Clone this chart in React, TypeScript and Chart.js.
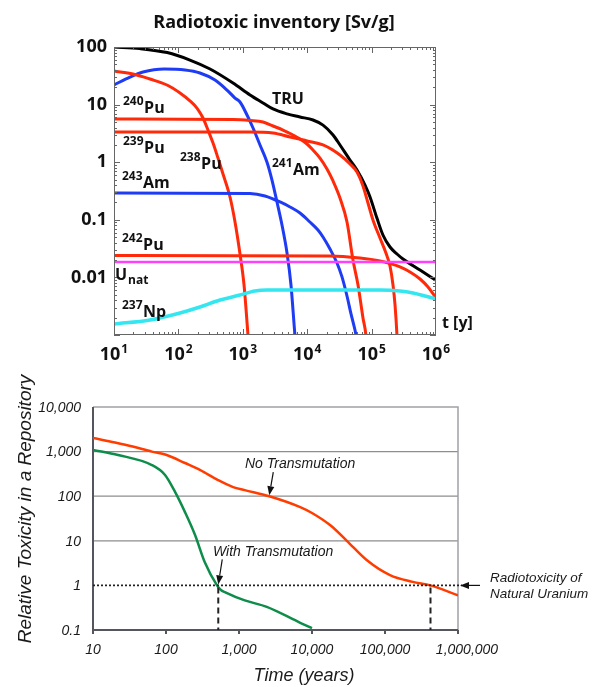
import React, { useEffect, useRef } from 'react';
import { Chart, registerables } from 'chart.js';
Chart.register(...registerables);

// ---------- Top chart: Radiotoxic inventory [Sv/g] ----------
const TRU_T = [10, 25, 67, 151, 310, 705, 1295, 2060, 2945, 4860, 7730, 12300, 17600, 25200, 32300, 46200, 59300, 79000, 94500, 121000, 150000, 193000, 248000, 307000, 565000, 1000000];
const TRU_V = [100, 94, 80, 59.4, 41.5, 23.7, 14.7, 10.7, 8.4, 6.9, 6.1, 5.4, 4.4, 2.97, 1.99, 1.09, 0.73, 0.40, 0.249, 0.107, 0.0545, 0.0337, 0.0255, 0.0209, 0.0134, 0.0089];

const AM241_T = [10, 17.7, 28.2, 60, 127, 216, 370, 568, 757, 905, 1163, 1442, 1850, 2377, 2840, 3395, 4060, 4860, 5600, 6470, 7000];
const AM241_V = [21.9, 30.1, 36.8, 41.5, 39.9, 35.4, 26.7, 17.9, 13.0, 11.1, 6.6, 3.92, 1.99, 1.0, 0.49, 0.204, 0.0813, 0.0265, 0.00738, 0.00096, 0.0004];

const PU238_T = [10, 19.7, 36.2, 66.5, 106, 151, 194, 241, 288, 345, 412, 493, 633, 757, 905, 1045, 1206, 1300];
const PU238_V = [38.3, 34.0, 27.8, 21.9, 15.9, 11.6, 8.7, 5.85, 3.62, 2.15, 1.18, 0.624, 0.249, 0.0916, 0.0255, 0.00738, 0.00096, 0.0003];

const PU240_T = [10, 705, 1295, 2060, 2945, 4200, 6020, 7730, 9930, 12300, 15800, 20300, 25200, 32300, 41500, 51400, 61500, 73500, 81800, 86000];
const PU240_V = [5.62, 5.51, 5.30, 4.99, 4.25, 3.62, 2.97, 2.53, 2.07, 1.63, 1.18, 0.762, 0.472, 0.239, 0.0916, 0.020, 0.00738, 0.00197, 0.00096, 0.0004];

const PU239_T = [10, 1295, 2945, 5410, 9930, 17600, 32300, 46200, 59300, 73500, 87900, 105000, 135000, 167000, 193000, 215000, 231000, 248000, 256000];
const PU239_V = [3.34, 3.34, 3.21, 2.74, 2.34, 1.99, 1.33, 0.931, 0.676, 0.386, 0.196, 0.0993, 0.0483, 0.0265, 0.0158, 0.00738, 0.00332, 0.00096, 0.0004];

const PU242_T = [10, 22600, 66100, 135000, 193000, 276000, 395000, 565000, 752000, 1000000];
const PU242_V = [0.024, 0.0236, 0.0217, 0.0193, 0.0174, 0.0152, 0.0124, 0.00938, 0.00681, 0.00439];

const UNAT_T = [10, 1000000];
const UNAT_V = [0.0185, 0.0185];

const NP237_T = [10, 36.2, 106, 216, 443, 905, 1545, 2377, 7730, 135000, 276000, 440000, 675000, 1000000];
const NP237_V = [0.00155, 0.00182, 0.00241, 0.00306, 0.00405, 0.00494, 0.00581, 0.00604, 0.00604, 0.00604, 0.00581, 0.00536, 0.00475, 0.00421];

const AM243_T = [10, 1295, 2210, 3790, 5410, 7730, 11000, 14700, 17600, 22600, 29000, 34700, 41500, 47900, 55200, 59300];
const AM243_V = [0.292, 0.286, 0.259, 0.204, 0.167, 0.131, 0.0916, 0.0665, 0.0503, 0.0311, 0.0178, 0.0102, 0.00475, 0.00232, 0.00122, 0.00082];

const TOP_X_TICKS = [10, 100, 1000, 10000, 100000, 1000000];
const TOP_X_EXP = ['1', '2', '3', '4', '5', '6'];
const TOP_Y_TICKS = [100, 10, 1, 0.1, 0.01];
const TOP_Y_LABELS = ['100', '10', '1', '0.1', '0.01'];

// ---------- Bottom chart: Relative toxicity ----------
const NOTRANS_T = [10, 20, 35, 64, 100, 182, 295, 515, 830, 1200, 2600, 6900, 10000, 18000, 30000, 56000, 117000, 240000, 420000, 1000000];
const NOTRANS_V = [2020, 1600, 1300, 1000, 850, 555, 385, 230, 160, 137, 100, 57, 42, 22, 10, 3.7, 1.7, 1.2, 1.0, 0.6];

const WITHTRANS_T = [10, 22, 64, 97, 133, 182, 250, 340, 500, 560, 650, 1200, 2400, 6900, 10000];
const WITHTRANS_V = [1090, 840, 500, 300, 125, 44, 13.5, 3.3, 1.0, 0.8, 0.7, 0.46, 0.33, 0.145, 0.11];

const BOT_X_TICKS = [10, 100, 1000, 10000, 100000, 1000000];
const BOT_X_LABELS = ['10', '100', '1,000', '10,000', '100,000', '1,000,000'];
const BOT_Y_TICKS = [10000, 1000, 100, 10, 1, 0.1];
const BOT_Y_LABELS = ['10,000', '1,000', '100', '10', '1', '0.1'];
const BOT_GRID = [1000, 100, 10];
const NAT_U_LEVEL = 1;
const CROSS_WITH = 520;
const CROSS_NO = 420000;

const F1 = '"Open Sans", "DejaVu Sans", sans-serif';
const F2 = '"Liberation Sans", Arial, sans-serif';

const pts = (t: number[], v: number[]) => t.map((x, i) => ({ x, y: v[i] }));

function iso(ctx: CanvasRenderingContext2D, sup: string, base: string, x: number, yb: number) {
  ctx.textAlign = 'left';
  ctx.textBaseline = 'alphabetic';
  ctx.font = `bold 12px ${F1}`;
  ctx.fillText(sup, x, yb - 8);
  const w = ctx.measureText(sup).width;
  ctx.font = `bold 16px ${F1}`;
  ctx.fillText(base, x + w + 0.5, yb);
}

const topDeco = {
  id: 'topDeco',
  afterDatasetsDraw(chart: any) {
    const { ctx, chartArea: ca, scales } = chart;
    const x = scales.x, y = scales.y;
    ctx.save();
    ctx.strokeStyle = '#666';
    ctx.lineWidth = 1;
    ctx.strokeRect(ca.left + 0.5, ca.top + 0.5, ca.right - ca.left - 1, ca.bottom - ca.top - 1);
    ctx.beginPath();
    for (let e = 1; e < 6; e++) {
      for (let m = 1; m < 10; m++) {
        const px = Math.round(x.getPixelForValue(m * Math.pow(10, e))) + 0.5;
        const len = m === 1 ? 6 : 3;
        ctx.moveTo(px, ca.bottom); ctx.lineTo(px, ca.bottom - len);
        ctx.moveTo(px, ca.top); ctx.lineTo(px, ca.top + len);
      }
    }
    for (let e = -3; e < 2; e++) {
      for (let m = 1; m < 10; m++) {
        const py = Math.round(y.getPixelForValue(m * Math.pow(10, e))) + 0.5;
        const len = m === 1 ? 6 : 3;
        ctx.moveTo(ca.left, py); ctx.lineTo(ca.left + len, py);
        ctx.moveTo(ca.right, py); ctx.lineTo(ca.right - len, py);
      }
    }
    ctx.stroke();

    ctx.fillStyle = '#111';
    ctx.font = `bold 18px ${F1}`;
    ctx.textAlign = 'center';
    ctx.textBaseline = 'alphabetic';
    ctx.fillText('Radiotoxic inventory [Sv/g]', 274, 28);
    ctx.textAlign = 'right';
    ctx.textBaseline = 'middle';
    TOP_Y_TICKS.forEach((v, i) => {
      ctx.fillText(TOP_Y_LABELS[i], ca.left - 7, y.getPixelForValue(v));
    });
    TOP_X_TICKS.forEach((v, i) => {
      const px = x.getPixelForValue(v);
      ctx.font = `bold 18px ${F1}`;
      const w1 = ctx.measureText('10').width;
      ctx.font = `bold 12px ${F1}`;
      const w2 = ctx.measureText(TOP_X_EXP[i]).width;
      const s = px - (w1 + w2 + 1) / 2;
      ctx.textAlign = 'left';
      ctx.textBaseline = 'alphabetic';
      ctx.font = `bold 18px ${F1}`;
      ctx.fillText('10', s, ca.bottom + 25);
      ctx.font = `bold 12px ${F1}`;
      ctx.fillText(TOP_X_EXP[i], s + w1 + 1, ca.bottom + 18);
    });
    const L = ca.left, T = ca.top;
    iso(ctx, '240', 'Pu', L + 9, T + 66);
    iso(ctx, '239', 'Pu', L + 9, T + 106);
    iso(ctx, '238', 'Pu', L + 66, T + 122);
    iso(ctx, '241', 'Am', L + 158, T + 128);
    iso(ctx, '243', 'Am', L + 8, T + 141);
    iso(ctx, '242', 'Pu', L + 8, T + 203);
    iso(ctx, '237', 'Np', L + 8, T + 270);
    ctx.font = `bold 16px ${F1}`;
    ctx.textAlign = 'left';
    ctx.fillText('U', L + 1, T + 233);
    const wu = ctx.measureText('U').width;
    ctx.font = `bold 12px ${F1}`;
    ctx.fillText('nat', L + 2 + wu, T + 237);
    ctx.font = `bold 16px ${F1}`;
    ctx.fillText('TRU', L + 158, T + 57);
    ctx.fillText('t [y]', ca.right + 6, ca.bottom - 7);
    ctx.restore();
  },
};

function arrow(ctx: CanvasRenderingContext2D, x1: number, y1: number, x2: number, y2: number) {
  const a = Math.atan2(y2 - y1, x2 - x1);
  const hl = 9, hw = 3.5;
  const bx = x2 - hl * Math.cos(a), by = y2 - hl * Math.sin(a);
  ctx.beginPath();
  ctx.moveTo(x1, y1);
  ctx.lineTo(bx, by);
  ctx.stroke();
  ctx.beginPath();
  ctx.moveTo(x2, y2);
  ctx.lineTo(bx + hw * Math.sin(a), by - hw * Math.cos(a));
  ctx.lineTo(bx - hw * Math.sin(a), by + hw * Math.cos(a));
  ctx.closePath();
  ctx.fill();
}

const botDeco = {
  id: 'botDeco',
  beforeDatasetsDraw(chart: any) {
    const { ctx, chartArea: ca, scales } = chart;
    const y = scales.y, x = scales.x;
    ctx.save();
    ctx.lineWidth = 1.3;
    ctx.strokeStyle = '#8e8e8e';
    ctx.beginPath();
    BOT_GRID.forEach((v) => {
      const py = y.getPixelForValue(v);
      ctx.moveTo(ca.left, py); ctx.lineTo(ca.right, py);
    });
    ctx.stroke();
    ctx.strokeStyle = '#a0a0a6';
    ctx.lineWidth = 1.5;
    ctx.beginPath();
    ctx.moveTo(ca.left, ca.top); ctx.lineTo(ca.right, ca.top); ctx.lineTo(ca.right, ca.bottom + 4);
    ctx.stroke();
    ctx.strokeStyle = '#55555e';
    ctx.lineWidth = 2;
    ctx.beginPath();
    ctx.moveTo(ca.left, ca.top); ctx.lineTo(ca.left, ca.bottom); ctx.lineTo(ca.right, ca.bottom);
    BOT_X_TICKS.forEach((v) => {
      const px = x.getPixelForValue(v);
      ctx.moveTo(px, ca.bottom); ctx.lineTo(px, ca.bottom + 4);
    });
    ctx.stroke();
    ctx.restore();
  },
  afterDatasetsDraw(chart: any) {
    const { ctx, chartArea: ca, scales } = chart;
    const y = scales.y, x = scales.x;
    ctx.save();
    const y1 = y.getPixelForValue(NAT_U_LEVEL);
    ctx.strokeStyle = '#222';
    ctx.lineWidth = 1.8;
    ctx.setLineDash([2, 2]);
    ctx.beginPath();
    ctx.moveTo(ca.left, y1); ctx.lineTo(ca.right + 4, y1);
    ctx.stroke();
    ctx.setLineDash([6, 4]);
    ctx.lineWidth = 2;
    ctx.beginPath();
    [CROSS_WITH, CROSS_NO].forEach((t) => {
      const px = x.getPixelForValue(t);
      ctx.moveTo(px, y1 + 2); ctx.lineTo(px, ca.bottom);
    });
    ctx.stroke();
    ctx.setLineDash([]);
    ctx.fillStyle = '#111';
    ctx.strokeStyle = '#111';
    ctx.lineWidth = 1.2;
    arrow(ctx, ca.right + 22, y1, ca.right + 2, y1);
    const pNo = x.getPixelForValue(2600), yNo = y.getPixelForValue(100);
    arrow(ctx, pNo + 4, yNo - 24, pNo, yNo - 1);
    const pW = x.getPixelForValue(CROSS_WITH), yW = y1;
    arrow(ctx, pW + 4, yW - 26, pW, yW - 1);
    ctx.fillStyle = '#1a1a1a';
    ctx.font = `italic 14px ${F2}`;
    ctx.textAlign = 'left';
    ctx.textBaseline = 'middle';
    ctx.fillText('No Transmutation', 245, yNo - 32);
    ctx.fillText('With Transmutation', 213, yW - 33);
    ctx.font = `italic 13.5px ${F2}`;
    ctx.fillText('Radiotoxicity of', ca.right + 32, y1 - 7);
    ctx.fillText('Natural Uranium', ca.right + 32, y1 + 9);
    ctx.font = `italic 14px ${F2}`;
    ctx.textAlign = 'right';
    BOT_Y_TICKS.forEach((v, i) => {
      ctx.fillText(BOT_Y_LABELS[i], ca.left - 12, y.getPixelForValue(v) + 1);
    });
    ctx.textAlign = 'center';
    BOT_X_TICKS.forEach((v, i) => {
      const last = i === BOT_X_TICKS.length - 1;
      ctx.fillText(BOT_X_LABELS[i], x.getPixelForValue(v) + (last ? 9 : 0), ca.bottom + 20);
    });
    ctx.font = `italic 18px ${F2}`;
    ctx.textBaseline = 'alphabetic';
    ctx.fillText('Time (years)', 304, ca.bottom + 51);
    ctx.save();
    ctx.translate(31, 144);
    ctx.rotate(-Math.PI / 2);
    ctx.font = `italic 19px ${F2}`;
    ctx.textAlign = 'center';
    ctx.fillText('Relative Toxicity in a Repository', 0, 0);
    ctx.restore();
    ctx.restore();
  },
};

const line = (data: any, color: string, width: number) => ({
  data,
  borderColor: color,
  borderWidth: width,
  pointRadius: 0,
  fill: false,
  cubicInterpolationMode: 'monotone' as const,
  clip: 0,
});

export default function App() {
  const topRef = useRef<HTMLCanvasElement>(null);
  const botRef = useRef<HTMLCanvasElement>(null);

  useEffect(() => {
    const RED = '#ff2a0a', BLUE = '#1f3cf5';
    const top = new Chart(topRef.current as HTMLCanvasElement, {
      type: 'line',
      data: {
        datasets: [
          line(pts(UNAT_T, UNAT_V), '#ff40ff', 2.5),
          line(pts(NP237_T, NP237_V), '#33e6f0', 3.5),
          line(pts(PU242_T, PU242_V), RED, 3),
          line(pts(AM243_T, AM243_V), BLUE, 3),
          line(pts(PU239_T, PU239_V), RED, 3),
          line(pts(PU240_T, PU240_V), RED, 3),
          line(pts(PU238_T, PU238_V), RED, 3),
          line(pts(AM241_T, AM241_V), BLUE, 3),
          line(pts(TRU_T, TRU_V), '#000000', 3),
        ],
      },
      options: {
        animation: false,
        responsive: false,
        devicePixelRatio: 1,
        parsing: false as any,
        layout: { padding: { left: 114, right: 156, top: 47, bottom: 30 } },
        plugins: { legend: { display: false }, tooltip: { enabled: false } },
        scales: {
          x: { type: 'logarithmic', min: 10, max: 1000000, display: false },
          y: { type: 'logarithmic', min: 0.001, max: 100, display: false },
        },
      },
      plugins: [topDeco],
    });

    const bot = new Chart(botRef.current as HTMLCanvasElement, {
      type: 'line',
      data: {
        datasets: [
          line(pts(NOTRANS_T, NOTRANS_V), '#ff3d00', 2.5),
          line(pts(WITHTRANS_T, WITHTRANS_V), '#0e8c4a', 2.5),
        ],
      },
      options: {
        animation: false,
        responsive: false,
        devicePixelRatio: 1,
        parsing: false as any,
        layout: { padding: { left: 93, right: 134, top: 42, bottom: 57 } },
        plugins: { legend: { display: false }, tooltip: { enabled: false } },
        scales: {
          x: { type: 'logarithmic', min: 10, max: 1000000, display: false },
          y: { type: 'logarithmic', min: 0.1, max: 10000, display: false },
        },
      },
      plugins: [botDeco],
    });
    return () => {
      top.destroy();
      bot.destroy();
    };
  }, []);

  return (
    <div style={{ position: 'absolute', left: 0, top: 0, width: 592, height: 687, background: '#fff' }}>
      <canvas ref={topRef} width={592} height={365} style={{ position: 'absolute', left: 0, top: 0, width: 592, height: 365 }} />
      <canvas ref={botRef} width={592} height={322} style={{ position: 'absolute', left: 0, top: 365, width: 592, height: 322 }} />
    </div>
  );
}
